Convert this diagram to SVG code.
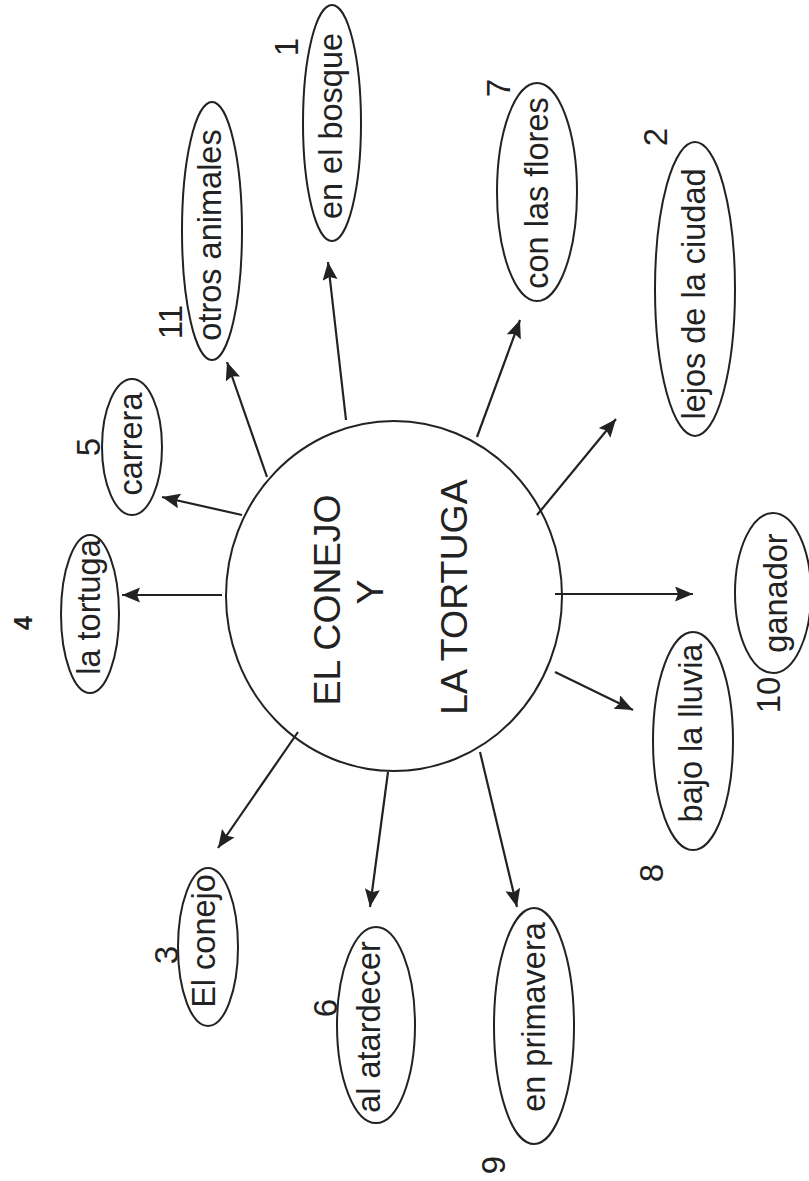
<svg xmlns="http://www.w3.org/2000/svg" width="809" height="1181" viewBox="0 0 809 1181">
<defs>
<style>
.shape{fill:none;stroke:#222;stroke-width:2}
.lbl{font-family:"Liberation Sans",Arial,sans-serif;font-size:32.5px;fill:#222;text-anchor:middle}
.num{font-family:"Liberation Sans",Arial,sans-serif;font-size:33px;fill:#222;text-anchor:middle}
.title{font-family:"Liberation Sans",Arial,sans-serif;font-size:37.5px;fill:#222;text-anchor:middle}
.conn line{stroke:#222;stroke-width:2.2;marker-end:url(#arr)}
</style>
<marker id="arr" markerUnits="userSpaceOnUse" markerWidth="20" markerHeight="16" refX="18" refY="7.5" orient="auto">
<path d="M0,0 L18,7.5 L0,15 L3,7.5 z" fill="#222"/>
</marker>
</defs>
<rect width="809" height="1181" fill="#fff"/>

<g id="connectors" class="conn">
<line x1="346" y1="420" x2="328" y2="262"/>
<line x1="267" y1="477" x2="227" y2="362"/>
<line x1="242" y1="515" x2="162" y2="497"/>
<line x1="222" y1="595" x2="122" y2="595"/>
<line x1="477" y1="437" x2="520" y2="320"/>
<line x1="537" y1="515" x2="616" y2="419"/>
<line x1="555" y1="594" x2="693" y2="594"/>
<line x1="555" y1="672" x2="633" y2="710"/>
<line x1="298" y1="732" x2="218" y2="848"/>
<line x1="388" y1="772" x2="370" y2="907"/>
<line x1="480" y1="752" x2="517" y2="907"/>
</g>

<g id="center">
<ellipse class="shape" cx="394" cy="596" rx="168" ry="175"/>
<text class="title" transform="translate(340,600) rotate(-90)">EL CONEJO</text>
<text class="title" transform="translate(383,592) rotate(-90)">Y</text>
<text class="title" transform="translate(467,597) rotate(-90)">LA TORTUGA</text>
</g>

<g id="n1">
<ellipse class="shape" cx="332" cy="123" rx="29" ry="118"/>
<text class="lbl" transform="translate(342,126) rotate(-90)">en el bosque</text>
<text class="num" transform="translate(298,47) rotate(-90)">1</text>
</g>

<g id="n11">
<ellipse class="shape" cx="212" cy="231" rx="30" ry="129"/>
<text class="lbl" transform="translate(221,235) rotate(-90)">otros animales</text>
<text class="num" transform="translate(182,322) rotate(-90)">11</text>
</g>

<g id="n7">
<ellipse class="shape" cx="537" cy="192" rx="40" ry="109"/>
<text class="lbl" transform="translate(548,193) rotate(-90)">con las flores</text>
<text class="num" transform="translate(510,88) rotate(-90)">7</text>
</g>

<g id="n2">
<ellipse class="shape" cx="695" cy="289" rx="40" ry="147"/>
<text class="lbl" transform="translate(705,294) rotate(-90)">lejos de la ciudad</text>
<text class="num" transform="translate(667,137) rotate(-90)">2</text>
</g>

<g id="n5">
<ellipse class="shape" cx="132" cy="447" rx="30" ry="68"/>
<text class="lbl" transform="translate(142,444) rotate(-90)">carrera</text>
<text class="num" transform="translate(100,447) rotate(-90)">5</text>
</g>

<g id="n4">
<ellipse class="shape" cx="90" cy="614" rx="29" ry="79"/>
<text class="lbl" transform="translate(100,607) rotate(-90)">la tortuga</text>
<text class="num" style="font-size:25px;font-weight:bold" transform="translate(32,623) rotate(-90)">4</text>
</g>

<g id="n10">
<ellipse class="shape" cx="773" cy="593" rx="38" ry="80"/>
<text class="lbl" transform="translate(787,593) rotate(-90)">ganador</text>
<text class="num" transform="translate(780,695) rotate(-90)">10</text>
</g>

<g id="n8">
<ellipse class="shape" cx="693" cy="741" rx="40" ry="109"/>
<text class="lbl" transform="translate(702,733) rotate(-90)">bajo la lluvia</text>
<text class="num" transform="translate(663,873) rotate(-90)">8</text>
</g>

<g id="n3">
<ellipse class="shape" cx="208" cy="947" rx="30" ry="79"/>
<text class="lbl" transform="translate(215,941) rotate(-90)">El conejo</text>
<text class="num" transform="translate(178,955) rotate(-90)">3</text>
</g>

<g id="n6">
<ellipse class="shape" cx="376" cy="1025" rx="39" ry="98"/>
<text class="lbl" transform="translate(380,1027) rotate(-90)">al atardecer</text>
<text class="num" transform="translate(337,1008) rotate(-90)">6</text>
</g>

<g id="n9">
<ellipse class="shape" cx="534" cy="1026" rx="40" ry="118"/>
<text class="lbl" transform="translate(545,1017) rotate(-90)">en primavera</text>
<text class="num" transform="translate(505,1165) rotate(-90)">9</text>
</g>
</svg>
